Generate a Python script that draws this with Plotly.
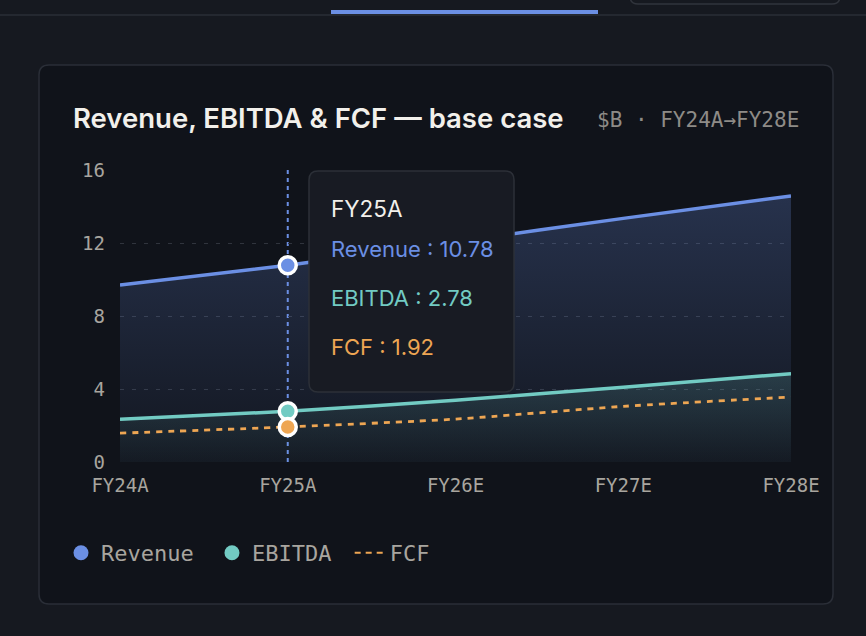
import plotly.graph_objects as go

# --- data ($B) ---
years = ["FY24A", "FY25A", "FY26E", "FY27E", "FY28E"]
revenue = [9.70, 10.78, 12.06, 13.35, 14.58]
ebitda = [2.34, 2.78, 3.38, 4.10, 4.84]
fcf = [1.58, 1.92, 2.35, 3.05, 3.56]
y_ticks = [0, 4, 8, 12, 16]
hover_idx = 1  # the highlighted year in the tooltip

BLUE = "#6b8fe4"
TEAL = "#72cbc3"
ORANGE = "#eea653"
PAGE_BG = "#161920"
CARD_BG = "#10131a"
MONO = "DejaVu Sans Mono"
SANS = "Inter"
NBSP = "\u00a0"

# pixel frame of the plot area inside the 866x636 page
FW, FH = 866, 636
L, R, T, B = 120, 75, 170, 174
PW, PH = FW - L - R, FH - T - B


def px(x):
    return (x - L) / PW


def py(y):
    return (FH - B - y) / PH


def rrect(x0, y0, x1, y1, r):
    """rounded rectangle path in paper coordinates, given pixel corners"""
    pts = [
        ("M", x0 + r, y0), ("L", x1 - r, y0), ("Q", x1, y0), ("", x1, y0 + r),
        ("L", x1, y1 - r), ("Q", x1, y1), ("", x1 - r, y1),
        ("L", x0 + r, y1), ("Q", x0, y1), ("", x0, y1 - r),
        ("L", x0, y0 + r), ("Q", x0, y0), ("", x0 + r, y0),
    ]
    return " ".join("{}{:.5f},{:.5f}".format(c, px(x), py(y)) for c, x, y in pts) + " Z"


fig = go.Figure()

# areas + lines
fig.add_trace(go.Scatter(
    x=years, y=revenue, name="Revenue", mode="lines",
    line=dict(color=BLUE, width=3.5, shape="spline", smoothing=0.6),
    fill="tozeroy",
    fillgradient=dict(type="vertical", start=0, stop=max(revenue),
                      colorscale=[[0, "rgba(107,143,228,0.03)"], [1, "rgba(107,143,228,0.25)"]]),
    showlegend=False, hoverinfo="skip"))
fig.add_trace(go.Scatter(
    x=years, y=ebitda, name="EBITDA", mode="lines",
    line=dict(color=TEAL, width=3.5, shape="spline", smoothing=0.6),
    fill="tozeroy",
    fillgradient=dict(type="vertical", start=0, stop=max(ebitda),
                      colorscale=[[0, "rgba(114,203,195,0.02)"], [1, "rgba(114,203,195,0.17)"]]),
    showlegend=False, hoverinfo="skip"))
fig.add_trace(go.Scatter(
    x=years, y=fcf, name="FCF", mode="lines",
    line=dict(color=ORANGE, width=2.8, dash="6px,6px", shape="spline", smoothing=0.6),
    showlegend=False, hoverinfo="skip"))

# highlighted points at the hovered year
for vals, col in [(revenue, BLUE), (ebitda, TEAL), (fcf, ORANGE)]:
    fig.add_trace(go.Scatter(
        x=[years[hover_idx]], y=[vals[hover_idx]], mode="markers",
        marker=dict(size=17, color=col, line=dict(color="white", width=3.5)),
        showlegend=False, hoverinfo="skip"))

# legend entries
fig.add_trace(go.Scatter(x=[None], y=[None], mode="markers", name="Revenue" + NBSP,
                         marker=dict(size=15, color=BLUE)))
fig.add_trace(go.Scatter(x=[None], y=[None], mode="markers", name="EBITDA" + NBSP,
                         marker=dict(size=15, color=TEAL)))
fig.add_trace(go.Scatter(x=[None], y=[None], mode="lines", name="FCF",
                         line=dict(color=ORANGE, width=2, dash="6px,5px")))

shapes = [
    # page top strip
    dict(type="line", xref="paper", yref="paper", x0=px(0), x1=px(FW), y0=py(15), y1=py(15),
         line=dict(color="#2a2e36", width=1.5), layer="below"),
    dict(type="rect", xref="paper", yref="paper", x0=px(331), x1=px(598), y0=py(14), y1=py(10),
         fillcolor=BLUE, line=dict(width=0), layer="below"),
    dict(type="path", xref="paper", yref="paper", path=rrect(630, -20, 840, 4, 8),
         line=dict(color="#30343c", width=1.5), layer="below"),
    # card
    dict(type="path", xref="paper", yref="paper", path=rrect(39, 65, 833, 604, 10),
         fillcolor=CARD_BG, line=dict(color="#2a2e37", width=1.5), layer="below"),
    # hover guide (under the traces, over the grid)
    dict(type="line", xref="x", yref="paper", x0=years[hover_idx], x1=years[hover_idx], y0=0, y1=1,
         line=dict(color=BLUE, width=2, dash="4px,4px"), layer="between"),
    # tooltip box
    dict(type="path", xref="paper", yref="paper", path=rrect(309, 171, 514, 392, 9),
         fillcolor="#181b23", line=dict(color="#2c3038", width=1.5), layer="above"),
]

annotations = [
    dict(text="Revenue, EBITDA &amp; FCF — base case", x=px(71), y=py(118), xref="paper", yref="paper",
         xanchor="left", yanchor="middle", showarrow=False,
         font=dict(family=SANS, size=27.5, weight=600, color="#f2f0eb")),
    dict(text="$B · {}→{}".format(years[0], years[-1]), x=px(801), y=py(120), xref="paper", yref="paper",
         xanchor="right", yanchor="middle", showarrow=False,
         font=dict(family=MONO, size=21, color="#8e8b87")),
    dict(text=years[hover_idx], x=px(329), y=py(208), xref="paper", yref="paper",
         xanchor="left", yanchor="middle", showarrow=False,
         font=dict(family=SANS, size=22.5, color="#f2f0eb")),
]
for label, vals, col, yy in [("Revenue", revenue, BLUE, 249), ("EBITDA", ebitda, TEAL, 298),
                             ("FCF", fcf, ORANGE, 347)]:
    annotations.append(dict(
        text="{} : {:.2f}".format(label, vals[hover_idx]), x=px(329), y=py(yy),
        xref="paper", yref="paper", xanchor="left", yanchor="middle", showarrow=False,
        font=dict(family=SANS, size=22, color=col)))

fig.update_layout(
    width=FW, height=FH,
    margin=dict(l=L, r=R, t=T, b=B),
    paper_bgcolor=PAGE_BG, plot_bgcolor="rgba(0,0,0,0)",
    shapes=shapes, annotations=annotations,
    showlegend=True,
    legend=dict(orientation="h", x=px(61), y=py(553), xanchor="left", yanchor="middle",
                font=dict(family=MONO, size=22, color="#a8a59f"),
                bgcolor="rgba(0,0,0,0)", itemwidth=30),
    xaxis=dict(range=[0, len(years) - 1], showgrid=False, zeroline=False, showline=False,
               ticks="", tickfont=dict(family=MONO, size=19, color="#a8a59f"),
               ticklabelstandoff=10),
    yaxis=dict(range=[0, 16], tickvals=y_ticks, showgrid=True, gridcolor="#30343d",
               griddash="4px,8px", gridwidth=1.4, zeroline=False, showline=False, ticks="",
               tickfont=dict(family=MONO, size=19, color="#a8a59f"), ticklabelstandoff=14),
)

fig.write_html("out.html", config={"displayModeBar": False},
               post_script="document.body.style.margin='0';"
                           "document.body.style.background='" + PAGE_BG + "';")
